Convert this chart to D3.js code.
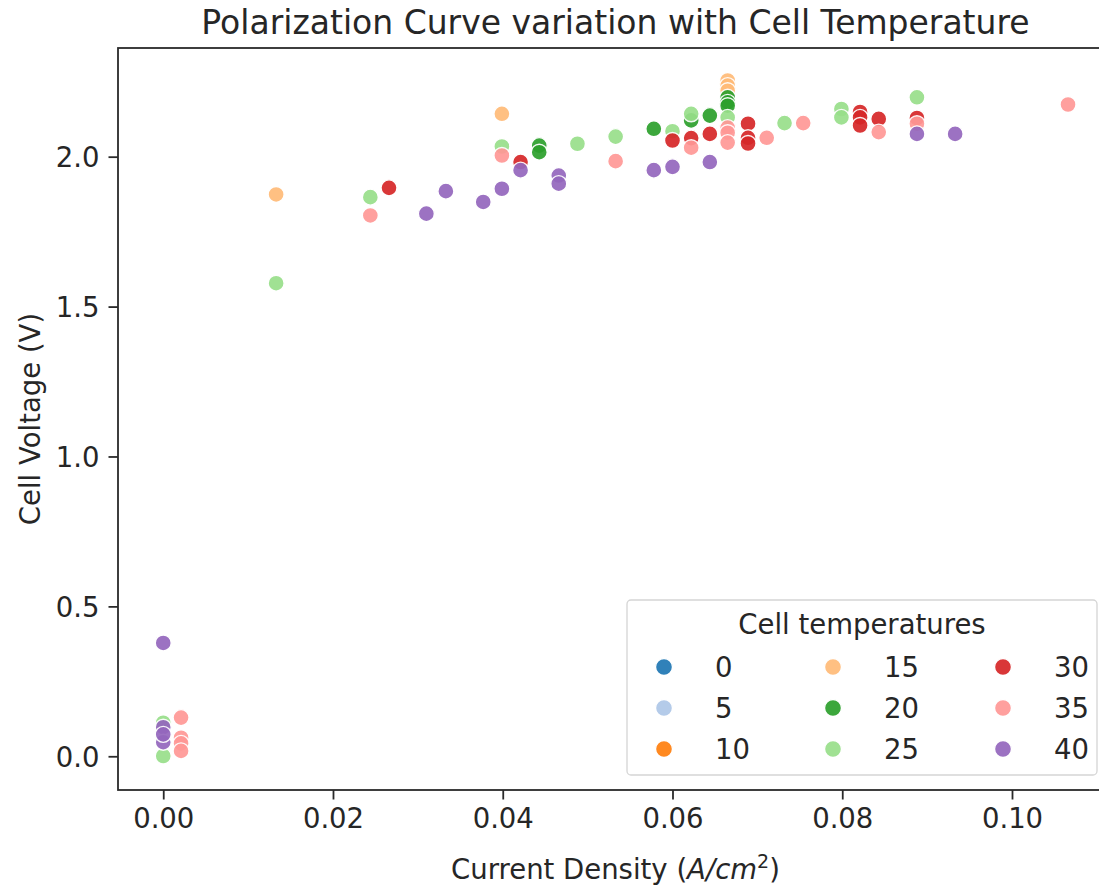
<!DOCTYPE html>
<html>
<head>
<meta charset="utf-8">
<script src="https://cdn.jsdelivr.net/npm/d3@7"></script>
<style>
  body { margin: 0; background: #fff; }
  svg text { font-family: "DejaVu Sans", sans-serif; fill: #262626; }
</style>
</head>
<body>
<div id="chart"></div>
<script>
// legend categories (cell temperature, °C)
const temperatures = [0, 5, 10, 15, 20, 25, 30, 35, 40];
const xTicks = [0, 0.02, 0.04, 0.06, 0.08, 0.10];
const yTicks = [0, 0.5, 1.0, 1.5, 2.0];

// current density (A/cm2) and cell voltage (V), per temperature
const current15 = [0.0133, 0.0399, 0.0665, 0.0665, 0.0665];
const voltage15 = [1.874, 2.143, 2.254, 2.237, 2.220];

const current20 = [0.0443, 0.0443, 0.0578, 0.0622, 0.0644, 0.0665, 0.0665, 0.0665];
const voltage20 = [2.037, 2.015, 2.093, 2.121, 2.137, 2.198, 2.181, 2.170];

const current25 = [0, 0, 0.0133, 0.0244, 0.0399, 0.0488, 0.0533, 0.0600, 0.0622, 0.0665, 0.0732, 0.0799, 0.0799, 0.0888];
const voltage25 = [0.112, 0.001, 1.578, 1.865, 2.034, 2.043, 2.067, 2.085, 2.143, 2.131, 2.112, 2.159, 2.131, 2.198];

const current30 = [0.0266, 0.0421, 0.0600, 0.0622, 0.0644, 0.0689, 0.0689, 0.0689, 0.0821, 0.0821, 0.0821, 0.0843, 0.0888];
const voltage30 = [1.896, 1.982, 2.054, 2.062, 2.076, 2.110, 2.063, 2.044, 2.149, 2.131, 2.104, 2.126, 2.129];

const current35 = [0.0021, 0.0021, 0.0021, 0.0021, 0.0244, 0.0399, 0.0533, 0.0622, 0.0665, 0.0665, 0.0665, 0.0711, 0.0754, 0.0843, 0.0888, 0.1066];
const voltage35 = [0.129, 0.062, 0.043, 0.018, 1.804, 2.004, 1.985, 2.030, 2.097, 2.080, 2.047, 2.063, 2.112, 2.082, 2.110, 2.174];

const current40 = [0, 0, 0, 0, 0.0310, 0.0333, 0.0377, 0.0399, 0.0421, 0.0466, 0.0466, 0.0578, 0.0600, 0.0644, 0.0888, 0.0933];
const voltage40 = [0.378, 0.097, 0.047, 0.073, 1.810, 1.885, 1.849, 1.893, 1.955, 1.937, 1.910, 1.955, 1.966, 1.982, 2.076, 2.076];

const series = [
  { t: 15, x: current15, y: voltage15 },
  { t: 20, x: current20, y: voltage20 },
  { t: 25, x: current25, y: voltage25 },
  { t: 30, x: current30, y: voltage30 },
  { t: 35, x: current35, y: voltage35 },
  { t: 40, x: current40, y: voltage40 }
];

// tab20-like palette used by the hue mapping
const color = d3.scaleOrdinal()
  .domain(temperatures)
  .range(['#1f77b4', '#aec7e8', '#ff7f0e', '#ffbb78', '#2ca02c', '#98df8a', '#d62728', '#ff9896', '#9467bd']);

const W = 1099, H = 885;
const plot = { left: 118, top: 48, right: 1113, bottom: 790 };
const fs = 27.5; // 10pt at this figure's scale

const svg = d3.select('#chart').append('svg')
  .attr('width', W).attr('height', H);

const x = d3.scaleLinear().domain([-0.00533, 0.1119]).range([plot.left, plot.right]);
const y = d3.scaleLinear().domain([-0.1125, 2.3625]).range([plot.bottom, plot.top]);

// points, drawn in temperature order like one scatter collection
const points = series.flatMap(s => s.x.map((v, i) => ({ t: s.t, x: v, y: s.y[i] })));

svg.append('g')
  .selectAll('circle')
  .data(points)
  .join('circle')
  .attr('cx', d => x(d.x))
  .attr('cy', d => y(d.y))
  .attr('r', 8)
  .attr('fill', d => color(d.t))
  .attr('stroke', '#fff')
  .attr('stroke-width', 1.4)
  .attr('opacity', 0.92);

// frame
svg.append('rect')
  .attr('x', plot.left).attr('y', plot.top)
  .attr('width', plot.right - plot.left).attr('height', plot.bottom - plot.top)
  .attr('fill', 'none').attr('stroke', '#2a2a2a').attr('stroke-width', 1.8);

// axes
const xAxisG = svg.append('g')
  .attr('transform', `translate(0,${plot.bottom})`)
  .call(d3.axisBottom(x).tickValues(xTicks).tickSize(9.5).tickPadding(9).tickFormat(d3.format('.2f')));
const yAxisG = svg.append('g')
  .attr('transform', `translate(${plot.left},0)`)
  .call(d3.axisLeft(y).tickValues(yTicks).tickSize(9.5).tickPadding(9).tickFormat(d3.format('.1f')));

[xAxisG, yAxisG].forEach(g => {
  g.select('.domain').remove();
  g.selectAll('line').attr('stroke', '#2a2a2a').attr('stroke-width', 1.8);
  g.selectAll('text').style('font-size', fs + 'px').attr('fill', '#262626');
});
xAxisG.selectAll('text').attr('dy', '0.72em');
yAxisG.selectAll('text').attr('dy', '0.36em');

// title and axis labels
svg.append('text')
  .attr('x', (plot.left + plot.right) / 2).attr('y', 34)
  .attr('text-anchor', 'middle')
  .style('font-size', '33px')
  .text('Polarization Curve variation with Cell Temperature');

const xl = svg.append('text')
  .attr('x', (plot.left + plot.right) / 2).attr('y', 879)
  .attr('text-anchor', 'middle')
  .style('font-size', fs + 'px');
xl.append('tspan').text('Current Density (');
xl.append('tspan').style('font-style', 'italic').text('A/cm');
xl.append('tspan').attr('dy', -11).style('font-size', '19px').text('2');
xl.append('tspan').attr('dy', 11).text(')');

svg.append('text')
  .attr('transform', `translate(40,${(plot.top + plot.bottom) / 2}) rotate(-90)`)
  .attr('text-anchor', 'middle')
  .style('font-size', fs + 'px')
  .text('Cell Voltage (V)');

// legend
const lg = svg.append('g');
lg.append('rect')
  .attr('x', 627).attr('y', 600).attr('width', 470).attr('height', 175)
  .attr('rx', 4)
  .attr('fill', '#fff').attr('fill-opacity', 0.85)
  .attr('stroke', '#d5d5d5').attr('stroke-width', 1.3);
lg.append('text')
  .attr('x', 862).attr('y', 634)
  .attr('text-anchor', 'middle')
  .style('font-size', fs + 'px')
  .text('Cell temperatures');

const colX = [664, 833, 1003];
const rowY = [667, 708, 749];
const items = lg.selectAll('g.item')
  .data(temperatures)
  .join('g')
  .attr('class', 'item')
  .attr('transform', (d, i) => `translate(${colX[Math.floor(i / 3)]},${rowY[i % 3]})`);
items.append('circle')
  .attr('r', 8.5).attr('fill', d => color(d))
  .attr('stroke', '#fff').attr('stroke-width', 1.4).attr('opacity', 0.92);
items.append('text')
  .attr('x', 51).attr('y', 10)
  .style('font-size', fs + 'px')
  .text(d => d);
</script>
</body>
</html>
